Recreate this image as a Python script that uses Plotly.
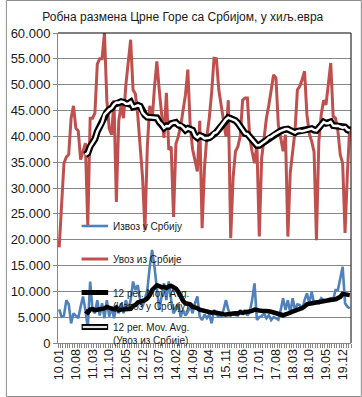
import plotly.graph_objects as go
import pandas as pd

# Monthly values, Jan 2010 .. Mar 2020 (thousand EUR)
import_from_serbia = [
    18500, 28000, 34800, 36000, 36500, 43500, 45900, 41600, 41000, 35500, 37000, 38700,
    22500, 43500, 43500, 44500, 54000, 55000, 55000, 60000, 47000, 41500, 40300, 47000,
    27300, 43000, 46000, 43500, 50000, 55000, 58700, 49000, 48200, 44000, 38100, 32000,
    21900, 38000, 45900, 43000, 49500, 54500, 49000, 44000, 39700, 48400, 37400, 38000,
    24400, 38500, 40000, 42000, 45000, 48000, 52900, 42000, 37500, 35500, 33200, 43000,
    22200, 34000, 40000, 43500, 48500, 55100, 55000, 49000, 46000, 43000, 40000, 47000,
    20300, 32000, 37100, 38000, 40000, 47000, 47400, 47400, 39700, 37000, 34800, 38400,
    20600, 35800, 39700, 43500, 46000, 48700, 51900, 51300, 42200, 39700, 37100, 40300,
    20600, 33000, 37000, 41000, 49000, 49700, 51000, 52600, 44200, 40500, 39000, 37000,
    19900, 39000, 44200, 47000, 46100, 50000, 54200, 43900, 43500, 41000, 36400, 34800,
    21300, 33000, 42000,
]
export_to_serbia = [
    6500, 5100, 5300, 8300, 7500, 3800, 5750, 5200, 4800, 7000, 9000, 6400,
    2900, 11900, 6400, 5750, 8300, 5300, 7700, 4800, 8300, 5100, 7000, 4800,
    7000, 5750, 7700, 5750, 8300, 6400, 8300, 11900, 10250, 11200, 8300, 7000,
    8500, 10250, 14750, 18000, 14750, 10900, 6400, 9000, 11550, 8300, 11900, 8300,
    5750, 6500, 7700, 5100, 6400, 5300, 6000, 7300, 5750, 7700, 9000, 5100,
    4450, 5500, 4800, 5500, 3800, 6400, 5500, 5100, 5100, 6400, 8300, 6400,
    5300, 5800, 5400, 5300, 6400, 5500, 6400, 5300, 6000, 8300, 11550, 4450,
    5000, 5200, 5750, 4800, 5400, 4450, 5000, 4800, 4500, 6400, 8650, 6400,
    8300, 5750, 8650, 6400, 7500, 7350, 6400, 8300, 9600, 7700, 9900, 7700,
    8000, 7700, 8650, 8300, 8000, 8500, 8650, 8300, 10250, 10250, 12800, 14750,
    7700, 7000, 6700,
]
tick_labels = ["10.01", "10.08", "11.03", "11.10", "12.05", "12.12", "13.07", "14.02",
               "14.09", "15.04", "15.11", "16.06", "17.01", "17.08", "18.03", "18.10",
               "19.05", "19.12"]
series_names = ["Извоз у Србију", "Увоз из Србије",
                "12 per. Mov. Avg.<br>(Извоз у Србију)", "12 per. Mov. Avg.<br>(Увоз из Србије)"]
title_text = "Робна размена Црне Горе са Србијом, у хиљ.евра"

n = len(import_from_serbia)
x = list(range(n))
tick_pos = [7 * k for k in range(len(tick_labels))]

ma_exp = pd.Series(export_to_serbia, dtype=float).rolling(12).mean()
ma_imp = pd.Series(import_from_serbia, dtype=float).rolling(12).mean()
ma_exp = [None if pd.isna(v) else v for v in ma_exp]
ma_imp = [None if pd.isna(v) else v for v in ma_imp]

BLUE = "#4F81BD"
RED = "#C0504D"
GRID = "#878787"
FONT = "Liberation Sans"

fig = go.Figure()
fig.add_trace(go.Scatter(x=x, y=export_to_serbia, mode="lines", name=series_names[0],
                         line=dict(color=BLUE, width=2.6), showlegend=False))
fig.add_trace(go.Scatter(x=x, y=import_from_serbia, mode="lines", name=series_names[1],
                         line=dict(color=RED, width=3), showlegend=False))
fig.add_trace(go.Scatter(x=x, y=ma_exp, mode="lines", name=series_names[2],
                         line=dict(color="black", width=4.5), showlegend=False))
fig.add_trace(go.Scatter(x=x, y=ma_imp, mode="lines", name=series_names[3],
                         line=dict(color="black", width=7), showlegend=False))
fig.add_trace(go.Scatter(x=x, y=ma_imp, mode="lines", name=series_names[3],
                         line=dict(color="white", width=2.5), showlegend=False))

# plot area in pixels: left 53, right 351, top 33, bottom 343
L, R, T, B = 53, 351, 33, 343
W, H = R - L, B - T
def px(v):
    return (v - L) / W
def py(v):
    return (B - v) / H

shapes = [
    dict(type="line", xref="paper", yref="paper", x0=0, x1=1, y0=1, y1=1,
         line=dict(color="black", width=1)),
    dict(type="line", xref="paper", yref="paper", x0=1, x1=1, y0=0, y1=1,
         line=dict(color="black", width=1)),
    dict(type="rect", xref="paper", yref="paper", x0=px(0.5), x1=px(361.5),
         y0=py(396.5), y1=py(0.5), line=dict(color="#8c8c8c", width=1)),
]
annotations = []
leg_x0, leg_x1 = px(77), px(104)
leg = [
    (226, BLUE, 2.6, None, 226),
    (259, RED, 3, None, 259),
    (292.5, "black", 5, None, 299.5),
    (327, "black", 6, "#e6e6e6", 334),
]
for (ly, col, w, inner, ty), name in zip(leg, series_names):
    shapes.append(dict(type="line", xref="paper", yref="paper", x0=leg_x0, x1=leg_x1,
                       y0=py(ly), y1=py(ly), line=dict(color=col, width=w)))
    if inner:
        shapes.append(dict(type="line", xref="paper", yref="paper", x0=leg_x0 + 0.004,
                           x1=leg_x1 - 0.004, y0=py(ly), y1=py(ly),
                           line=dict(color=inner, width=2.2)))
    annotations.append(dict(xref="paper", yref="paper", x=px(107), y=py(ty), text=name,
                            showarrow=False, xanchor="left", yanchor="middle", align="left",
                            font=dict(family=FONT, size=10, color="#1a1a1a")))

fig.update_layout(
    width=362, height=397,
    margin=dict(l=L, r=362 - R, t=T, b=397 - B, pad=0),
    paper_bgcolor="white", plot_bgcolor="white",
    separators=",.",
    showlegend=False,
    title=dict(text=title_text, x=0.505, xref="container", xanchor="center",
               y=1 - 17 / 397, yref="container", yanchor="middle",
               font=dict(family=FONT, size=12, color="#1a1a1a")),
    xaxis=dict(range=[-0.5, n - 0.5], tickmode="array", tickvals=tick_pos, ticktext=tick_labels,
               tickangle=-90, ticks="", showgrid=False, zeroline=False,
               showline=True, linecolor=GRID, linewidth=1,
               tickfont=dict(family=FONT, size=12.5, color="#1a1a1a"),
               minor=dict(ticks="outside", tick0=-0.5, dtick=1, ticklen=4,
                          tickcolor=GRID, tickwidth=1, showgrid=False)),
    yaxis=dict(range=[0, 60000], dtick=5000, tickformat=",.0f",
               showgrid=True, gridcolor=GRID, gridwidth=1, zeroline=False,
               showline=True, linecolor=GRID, linewidth=1,
               ticks="outside", ticklen=4, tickcolor=GRID,
               tickfont=dict(family=FONT, size=13, color="#1a1a1a")),
    shapes=shapes,
    annotations=annotations,
)

fig.write_html("out.html", config={"displayModeBar": False},
               post_script="document.body.style.margin='0';document.body.style.overflow='hidden';")
